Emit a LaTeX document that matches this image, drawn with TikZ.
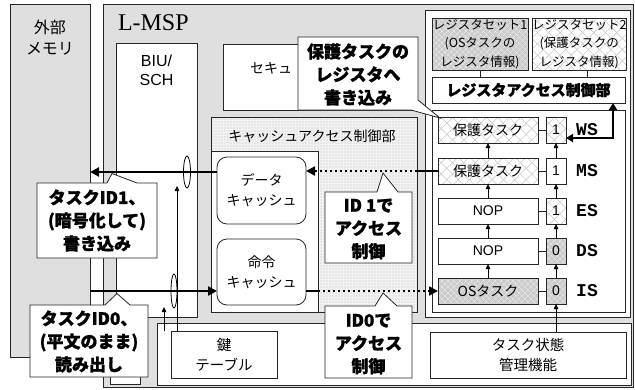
\documentclass[tikz,border=0pt]{standalone}
\usepackage{fontspec}
\setmainfont{Liberation Sans}
\setmonofont{Liberation Mono}
\newfontfamily\cjk{Noto Sans CJK JP}[BoldFeatures={FakeBold=1.2}]
\newfontfamily\tms{Liberation Serif}
\usetikzlibrary{patterns,patterns.meta,arrows.meta,shapes.geometric,calc}
\tikzset{
  bx/.style={draw=black!85, line width=0.8pt, inner sep=0pt, outer sep=0pt},
  nw/.style={anchor=north west},
  sz/.style 2 args={minimum width=#1pt, minimum height=#2pt},
  gbx/.style={bx, nw, fill=gray!25},
  wbx/.style={bx, nw, fill=white},
  tx/.style={inner sep=0pt, outer sep=0pt, align=center},
  jp/.style={font=\cjk\fontsize{14}{20}\selectfont},
  jps/.style={font=\cjk\fontsize{12.5}{18.5}\selectfont},
  jpb/.style={font=\cjk\bfseries\fontsize{17}{23}\selectfont},
  lat/.style={font=\fontsize{14}{16}\selectfont},
  stl/.style={font=\ttfamily\bfseries\fontsize{18}{18}\selectfont},
  hatchL/.style={preaction={fill=white},
    preaction={pattern={Lines[angle=45,distance=8pt,line width=0.5pt]}, pattern color=gray!45},
    pattern={Lines[angle=-45,distance=8pt,line width=0.5pt]}, pattern color=gray!45},
  hatchG/.style={preaction={fill=gray!40},
    preaction={pattern={Lines[angle=45,distance=4pt,line width=0.4pt]}, pattern color=gray!12},
    pattern={Lines[angle=-45,distance=4pt,line width=0.4pt]}, pattern color=gray!12},
  stip/.style={preaction={fill=gray!10}, pattern={Dots[distance=3pt,radius=0.55pt]}, pattern color=gray!50},
  stg/.style={bx, anchor=center, sz={100}{26}},
  flg/.style={bx, anchor=center, sz={20}{26}, font=\fontsize{14}{14}\selectfont},
  thk/.style={line width=2.4pt},
  arr/.style={-{Triangle[length=9pt,width=9pt]}},
  dotl/.style={line width=2.4pt, dash pattern=on 2.4pt off 2.6pt},
  thn/.style={line width=0.8pt, -{Triangle[length=5pt,width=4.5pt]}},
  ln/.style={line width=0.8pt, draw=black!85},
  co/.style={draw=black!85, line width=0.8pt, fill=white, line join=miter},
}
\begin{document}
\begin{tikzpicture}[x=1pt,y=-1pt]
\useasboundingbox (0,0) rectangle (635,389);
\fill[white] (0,0) rectangle (635,389);

% outer blocks
\node[gbx, sz={80}{353}] (mem) at (10,4) {};
\node[tx, jp, font=\cjk\fontsize{16}{21}\selectfont] (memt) at (50,37.5) {外部\\メモリ};
\node[gbx, sz={530}{383}] (lmsp) at (103,4) {};
\node[tx, anchor=west, font=\tms\fontsize{24}{24}\selectfont] (lmspt) at (118,23) {L-MSP};

% BIU
\node[wbx, sz={81}{274}] (biu) at (116,43) {};
\node[tx, font=\fontsize{16}{19}\selectfont] (biut) at (156.5,70.5) {BIU/\\SCH};
\node[wbx, sz={30}{54}] (smw) at (110,330) {};

% security box (mostly hidden by callout)
\node[wbx, sz={192}{66}] (secu) at (223,44) {};
\node[tx, jp, anchor=west] (secut) at (250,68) {セキュ};

% cache access control
\node[bx, nw, stip, sz={206}{195}] (ccr) at (211,117) {};
\node[tx, jp] (ccrt) at (312,136) {キャッシュアクセス制御部};
\node[wbx, sz={107}{161}] (cin) at (211,151) {};
\node[wbx, rounded corners=10pt, sz={89}{67}, tx, jp] (dcache) at (217,157) {データ\\キャッシュ};
\node[wbx, rounded corners=10pt, sz={89}{66}, tx, jp] (icache) at (217,239) {命令\\キャッシュ};

% register panel
\node[wbx, sz={205}{307}] (regp) at (425,10) {};
\node[bx, nw, hatchG, sz={96}{52}, align=center, jps] (rs1) at (432,18) {レジスタセット1\\(OSタスクの\\レジスタ情報)};
\node[bx, nw, hatchL, sz={94}{52}, align=center, jps] (rs2) at (532,18) {レジスタセット2\\(保護タスクの\\レジスタ情報)};
\node[wbx, sz={193}{26}, font=\cjk\bfseries\fontsize{15}{15}\selectfont] (rac) at (432,77) {レジスタアクセス制御部};
\node[wbx, sz={193}{202}] (pip) at (432,110) {};

% pipeline stages
\node[stg, hatchL, jp] (sWS) at (488,130) {保護タスク};
\node[stg, hatchL, jp] (sMS) at (488,171) {保護タスク};
\node[stg, fill=white, lat] (sES) at (488,211) {NOP};
\node[stg, fill=white, lat] (sDS) at (488,251) {NOP};
\node[stg, hatchG, jp] (sIS) at (488,291) {OSタスク};

\node[flg, hatchL] (fWS) at (556,130) {1};
\node[flg, fill=white] (fMS) at (556,171) {1};
\node[flg, hatchL] (fES) at (556,211) {1};
\node[flg, hatchG] (fDS) at (556,251) {0};
\node[flg, hatchG] (fIS) at (556,291) {0};

\node[tx, stl] (lWS) at (587,130) {WS};
\node[tx, stl] (lMS) at (587,171) {MS};
\node[tx, stl] (lES) at (587,211) {ES};
\node[tx, stl] (lDS) at (587,251) {DS};
\node[tx, stl] (lIS) at (587,291) {IS};

\foreach \s in {WS,MS,ES,DS,IS} \draw[ln] (s\s.east) -- (f\s.west);
\foreach \a/\b in {WS/MS,MS/ES,ES/DS,DS/IS} {
  \draw[thn] (s\b.north) -- (s\a.south);
  \draw[thn] (f\b.north) -- (f\a.south);
}
\draw[ln] (rs1.south) -- (rs1.south |- rac.north);
\draw[ln] ($(rs2.south)+(8,0)$) -- ($(rs2.south |- rac.north)+(8,0)$);
\draw[thk, {Triangle[length=7pt,width=8pt]}-{Triangle[length=7pt,width=8pt]}] ([yshift=-8pt]fWS.east) -| ([xshift=-12pt]rac.south east);

% bottom panel
\node[wbx, sz={474}{62}] (botp) at (157,323) {};
\node[wbx, sz={106}{47}, tx, font=\cjk\fontsize{14.5}{20}\selectfont] (key) at (171,331) {鍵\\テーブル};
\node[wbx, sz={196}{46}, tx, font=\cjk\fontsize{14.5}{20}\selectfont] (tsm) at (430,332) {タスク状態\\管理機能};
\draw[thn] (fIS.south |- tsm.north) -- (fIS.south);

% data paths
\draw[thk, arr] (dcache.west |- 0,172) -- (mem.east |- 0,172);
\draw[thk] (sMS.west) -- (ccr.east |- sMS.west);
\draw[dotl, arr] (ccr.east |- sMS.west) -- (dcache.east |- sMS.west);
\draw[thk, arr] (mem.east |- sIS.west) -- (icache.west |- sIS.west);
\draw[thk] (icache.east |- sIS.west) -- (cin.east |- sIS.west);
\draw[dotl, arr] (cin.east |- sIS.west) -- (sIS.west);

\node[draw, ellipse, line width=0.8pt, inner sep=0pt, minimum width=7pt, minimum height=32pt] (e1) at (187,172) {};
\node[draw, ellipse, line width=0.8pt, inner sep=0pt, minimum width=6pt, minimum height=34pt] (e2) at (174,291) {};

\coordinate (k1) at (177,186);
\coordinate (k2s) at (164,331);
\coordinate (k2e) at (164,307);
\draw[thn] (key.north -| k1) -- (k1);
\draw[thn] (k2s) -- (k2e);

% callouts
\draw[co] (37,183) -- (107,183) -- (112,173.5) -- (137,183) -- (157,183) -- (157,258) -- (37,258) -- cycle;
\node[tx, jpb] (c1) at (97,220.5) {タスクID1、\\(暗号化して)\\書き込み};
\draw[co] (30,305) -- (105,305) -- (117,293.5) -- (130,305) -- (148,305) -- (148,377) -- (30,377) -- cycle;
\node[tx, jpb] (c2) at (89,341.5) {タスクID0、\\(平文のまま)\\読み出し};
\draw[co] (298,37) -- (418,37) -- (418,100) -- (440,118) -- (411,110) -- (298,110) -- cycle;
\node[tx, jpb] (c3) at (358,74.5) {保護タスクの\\レジスタへ\\書き込み};
\draw[co] (325,192) -- (377,192) -- (383,173) -- (398,192) -- (412,192) -- (412,263) -- (325,263) -- cycle;
\node[tx, jpb] (c4) at (368.5,229) {ID 1で\\アクセス\\制御};
\draw[co] (325,306) -- (375,306) -- (383,293) -- (397,306) -- (412,306) -- (412,378) -- (325,378) -- cycle;
\node[tx, jpb] (c5) at (368.5,344) {ID0で\\アクセス\\制御};
\end{tikzpicture}
\end{document}
